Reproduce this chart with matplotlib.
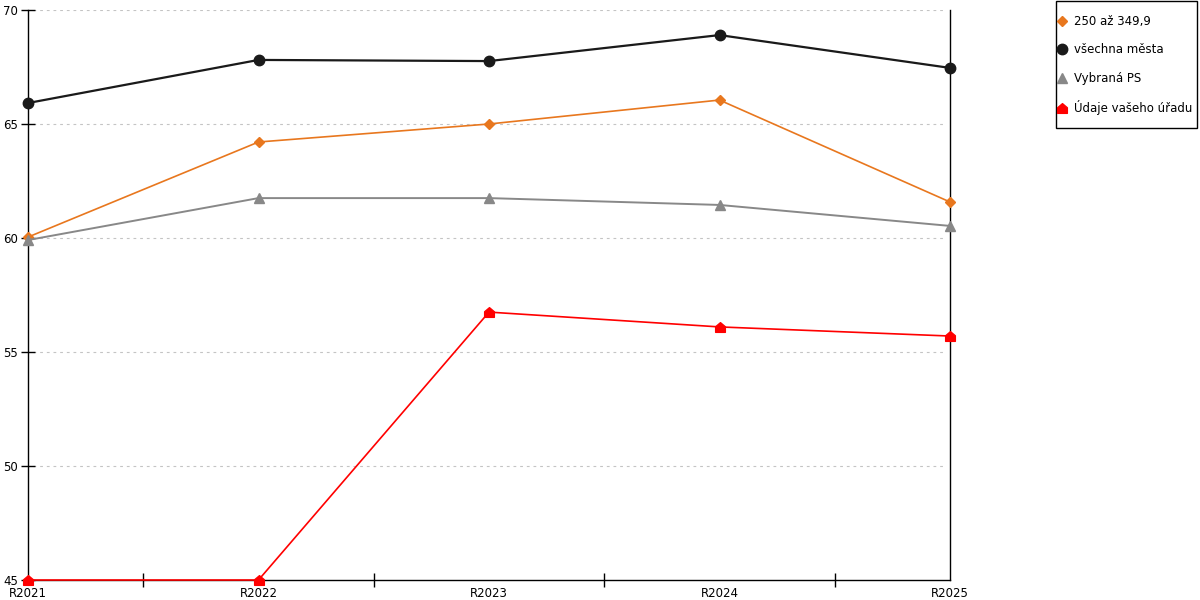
import matplotlib
matplotlib.use("Agg")
import matplotlib.pyplot as plt
from matplotlib.path import Path
from matplotlib.patches import Rectangle
import numpy as np

categories = ["R2021", "R2022", "R2023", "R2024", "R2025"]
s_orange = [60.04, 64.21, 65.0, 66.05, 61.58]
s_black = [65.92, 67.81, 67.76, 68.90, 67.46]
s_gray = [59.91, 61.75, 61.75, 61.45, 60.53]
s_red = [45.0, 45.0, 56.75, 56.10, 55.70]
labels = ["250 až 349,9", "všechna města", "Vybraná PS", "Údaje vašeho úřadu"]

house = Path([(-1, -1), (1, -1), (1, 0.15), (0, 1), (-1, 0.15), (-1, -1)],
             [Path.MOVETO, Path.LINETO, Path.LINETO, Path.LINETO, Path.LINETO, Path.CLOSEPOLY])

plt.rcParams['font.family'] = ['DejaVu Sans']
fig = plt.figure(figsize=(12, 6), dpi=100)
ax = fig.add_axes([28/1200, 20/600, 922/1200, 570/600])

x = np.arange(len(categories))
ax.plot(x, s_orange, color="#E8771E", lw=1.2, marker="D", ms=5, clip_on=False, zorder=3, label=labels[0])
ax.plot(x, s_black, color="#1a1a1a", lw=1.6, marker="o", ms=7.5, clip_on=False, zorder=3, label=labels[1])
ax.plot(x, s_gray, color="#888888", lw=1.4, marker="^", ms=7.5, clip_on=False, zorder=3, label=labels[2])
ax.plot(x, s_red, color="#ff0000", lw=1.2, marker=house, ms=7, clip_on=False, zorder=3, label=labels[3])

ax.set_xlim(0, len(categories) - 1)
ax.set_ylim(45, 70)
ax.set_yticks([45, 50, 55, 60, 65, 70])
ax.set_xticks(x)
ax.set_xticklabels(categories)
ax.set_xticks(np.arange(0.5, len(categories) - 1, 1), minor=True)
ax.tick_params(axis='x', which='major', length=0, pad=5, labelsize=8.5)
ax.tick_params(axis='x', which='minor', length=10, direction='inout', width=1)
ax.tick_params(axis='y', which='major', length=10, direction='inout', width=1, labelsize=8.5, pad=2)

for v in [50, 55, 60, 65, 70]:
    ax.plot([0.02, 3.98], [v, v], color="#c4c4c4", lw=0.8, ls=(0, (2.5, 3.5)), zorder=1)

ax.spines['top'].set_visible(False)
for s in ['left', 'right', 'bottom']:
    ax.spines[s].set_color('black')
    ax.spines[s].set_linewidth(1)

# legend box
fig.patches.append(Rectangle((1056/1200, 1 - 128/600), 141/1200, 127/600,
                             transform=fig.transFigure, facecolor='white',
                             edgecolor='black', lw=1, zorder=0))
handles, labs = ax.get_legend_handles_labels()
leg = fig.legend(handles, labs, loc='upper left', bbox_to_anchor=(1056.5/1200, 1 - 15/600),
                 frameon=False, fontsize=8.5,
                 handlelength=0.9, handletextpad=0.55, labelspacing=1.3,
                 borderpad=0, borderaxespad=0, markerscale=1.0)
for h in leg.legend_handles:
    h.set_linestyle('None')

fig.savefig("out.png", dpi=100)
